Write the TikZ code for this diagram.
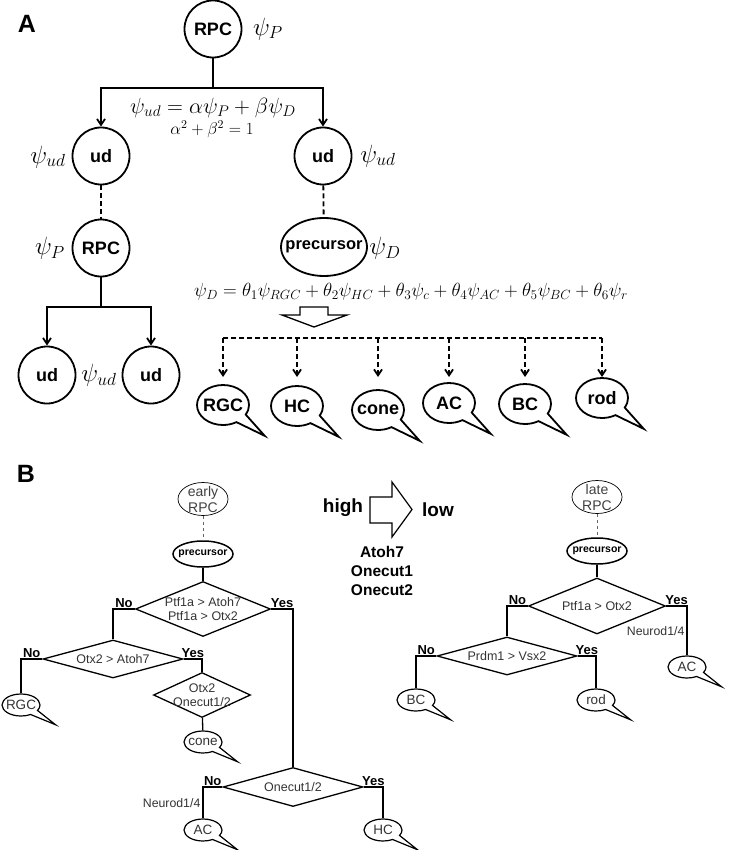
\RequirePackage{fix-cm}
\documentclass[tikz,border=0pt]{standalone}
\usepackage{amsmath}
\usepackage[no-math]{fontspec}
\setmainfont{Liberation Sans}
\usetikzlibrary{shapes.geometric,shapes.callouts,arrows.meta}

\begin{document}
\begin{tikzpicture}[x=1pt,y=-1pt,
  cell/.style={circle,draw,line width=1.8pt,minimum size=57pt,inner sep=0pt,font=\fontsize{18}{20}\selectfont\bfseries},
  precA/.style={ellipse,draw,line width=1.8pt,minimum width=86pt,minimum height=58pt,inner xsep=-10pt,inner ysep=0pt,font=\fontsize{16.5}{18}\selectfont\bfseries},
  fateA/.style={ellipse callout,draw,line width=1.8pt,minimum width=52pt,minimum height=40pt,inner sep=-4pt,callout relative pointer={(23pt,-17pt)},callout pointer arc=30,font=\fontsize{18}{20}\selectfont\bfseries},
  psi/.style={font=\fontsize{25}{26}\selectfont},
  link/.style={line width=1.8pt},
  tip/.style={-{Straight Barb[length=6pt,width=8pt]}},
  dashline/.style={dash pattern=on 5pt off 3pt},
  stage/.style={ellipse,draw,line width=0.7pt,minimum width=50pt,minimum height=33pt,inner sep=-6pt,align=center,text=black!75,font=\fontsize{14}{16}\selectfont},
  precB/.style={ellipse,draw,line width=1.5pt,minimum width=60pt,minimum height=26pt,inner xsep=-8pt,inner ysep=0pt,font=\fontsize{10.5}{12}\selectfont\bfseries},
  test/.style={diamond,draw,line width=1.3pt,inner sep=0pt,align=center,text=black!80,font=\fontsize{12.5}{14}\selectfont},
  fateB/.style={ellipse callout,draw,line width=1.2pt,minimum width=38pt,minimum height=22pt,inner sep=-4pt,callout relative pointer={(21pt,-12pt)},callout pointer arc=30,text=black!80,font=\fontsize{13.5}{15}\selectfont},
  yn/.style={inner sep=1pt,font=\fontsize{13}{14}\selectfont\bfseries},
  note/.style={inner sep=2pt,text=black!80,font=\fontsize{12.3}{14}\selectfont},
  wire/.style={line width=1.3pt}]
\useasboundingbox (0,0) rectangle (742,850);

\node[font=\fontsize{25}{25}\selectfont\bfseries] (labA) at (27,24) {A};
\node[cell] (rpc) at (213,29) {RPC};
\node[psi] (psiP) at (268,29) {$\psi_P$};
\coordinate (splitA) at (213,88);
\node[cell] (udl) at (101,156) {ud};
\node[cell] (udr) at (323,156) {ud};
\node[psi] (psiudl) at (48,157) {$\psi_{ud}$};
\node[psi] (psiudr) at (378,156) {$\psi_{ud}$};
\node[font=\fontsize{22}{24}\selectfont] (equd) at (213,108) {$\psi_{ud}=\alpha\psi_P+\beta\psi_D$};
\node[font=\fontsize{17}{17}\selectfont] (norm) at (212,129) {$\alpha^2+\beta^2=1$};
\draw[link] (rpc) -- (splitA);
\draw[link,tip] (splitA) -| (udl);
\draw[link,tip] (splitA) -| (udr);

\node[cell] (rpcl) at (101,248) {RPC};
\node[psi] (psiPl) at (50,248) {$\psi_P$};
\draw[link,dashline] (udl) -- (rpcl);
\coordinate (splitB) at (101,307);
\node[cell] (ud1) at (47,375) {ud};
\node[cell] (ud2) at (151,375) {ud};
\node[psi] (psiud) at (99,375) {$\psi_{ud}$};
\draw[link] (rpcl) -- (splitB);
\draw[link,tip] (splitB) -| (ud1);
\draw[link,tip] (splitB) -| (ud2);

\node[precA] (precA) at (324,247) {precursor};
\node[psi] (psiD) at (385,248) {$\psi_D$};
\draw[link,dashline] (udr) -- (precA);
\node[font=\fontsize{19}{20}\selectfont] (eqD) at (411,292)
  {$\psi_D=\theta_1\psi_{RGC}+\theta_2\psi_{HC}+\theta_3\psi_c+\theta_4\psi_{AC}+\theta_5\psi_{BC}+\theta_6\psi_r$};
\draw[line width=1.3pt] (300,307) -- (328,307) -- (328,315) -- (347,315) -- (314,327) -- (282,315) -- (300,315) -- cycle;

\node[fateA] (rgcA) at (223,405) {RGC};
\node[fateA] (hcA) at (297,406) {HC};
\node[fateA] (coneA) at (378,410) {cone};
\node[fateA] (acA) at (449,403) {AC};
\node[fateA] (bcA) at (525,404) {BC};
\node[fateA] (rodA) at (602,398) {rod};
\coordinate (fanL) at (223,338);
\coordinate (fanR) at (602,338);
\coordinate (fanT) at (223,377);
\draw[link,dashline] (fanL) -- (fanR);
\foreach \c in {rgcA,hcA,coneA,acA,bcA,rodA}
  \draw[link,dashline,tip] (\c.north |- fanL) -- (\c.north |- fanT);

\node[font=\fontsize{25}{25}\selectfont\bfseries] (labB) at (26,474) {B};
\node[stage] (early) at (203,499) {early\\RPC};
\node[precB] (precB1) at (203,554) {precursor};
\draw[line width=0.8pt,dashed,black!60] (early) -- (precB1);
\node[test,aspect=2.45,inner sep=-1.5pt,minimum width=135pt,minimum height=55pt] (t1) at (203,609) {Ptf1a > Atoh7\\Ptf1a > Otx2};
\node[test,aspect=3.7,minimum width=140pt,minimum height=38pt] (t2) at (113,659) {Otx2 > Atoh7};
\node[test,minimum width=97pt,minimum height=45pt,inner sep=-14pt] (t3) at (202,695) {Otx2\\Onecut1/2};
\node[test,aspect=3.6,minimum width=140pt,minimum height=39pt] (t4) at (293,787) {Onecut1/2};
\node[fateB] (rgcB) at (21,705) {RGC};
\node[fateB] (coneB) at (203,742) {cone};
\node[fateB] (acB) at (203,830) {AC};
\node[fateB] (hcB) at (383,830) {HC};
\draw[wire] (precB1) -- (t1);
\draw[wire] (t1.west) -| node[yn,pos=0.25,above] {No} (t2.north);
\draw[wire] (t1.east) -| node[yn,pos=0.25,above] {Yes} (t4.north);
\draw[wire] (t2.west) -| node[yn,pos=0.25,above] {No} (rgcB.north);
\draw[wire] (t2.east) -| node[yn,pos=0.25,above] {Yes} (t3.north);
\draw[wire] (t3) -- (coneB);
\draw[wire] (t4.west) -| node[yn,pos=0.25,above] {No} node[note,pos=0.75,left] {Neurod1/4} (acB.north);
\draw[wire] (t4.east) -| node[yn,pos=0.25,above] {Yes} (hcB.north);

\node[font=\fontsize{19}{20}\selectfont\bfseries] (high) at (343,508) {high};
\draw[line width=1.2pt] (370,497) -- (392,497) -- (392,482) -- (412,509.5) -- (392,537) -- (392,523) -- (370,523) -- cycle;
\node[font=\fontsize{19}{20}\selectfont\bfseries] (low) at (438,510) {low};
\node[align=center,font=\fontsize{15.5}{19}\selectfont\bfseries] (genes) at (382,571) {Atoh7\\Onecut1\\Onecut2};

\node[stage] (late) at (597,497) {late\\RPC};
\node[precB] (precB2) at (597,551) {precursor};
\draw[line width=0.8pt,dashed,black!60] (late) -- (precB2);
\node[test,aspect=2.45,minimum width=137pt,minimum height=56pt] (r1) at (597,606) {Ptf1a > Otx2};
\node[test,aspect=3.7,minimum width=140pt,minimum height=38pt] (r2) at (507,656) {Prdm1 > Vsx2};
\node[fateB] (bcB) at (416,700) {BC};
\node[fateB] (rodB) at (596,700) {rod};
\node[fateB] (acR) at (687,667) {AC};
\draw[wire] (precB2) -- (r1);
\draw[wire] (r1.west) -| node[yn,pos=0.25,above] {No} (r2.north);
\draw[wire] (r1.east) -| node[yn,pos=0.25,above] {Yes} node[note,pos=0.75,left] {Neurod1/4} (acR.north);
\draw[wire] (r2.west) -| node[yn,pos=0.25,above] {No} (bcB.north);
\draw[wire] (r2.east) -| node[yn,pos=0.25,above] {Yes} (rodB.north);
\end{tikzpicture}
\end{document}
